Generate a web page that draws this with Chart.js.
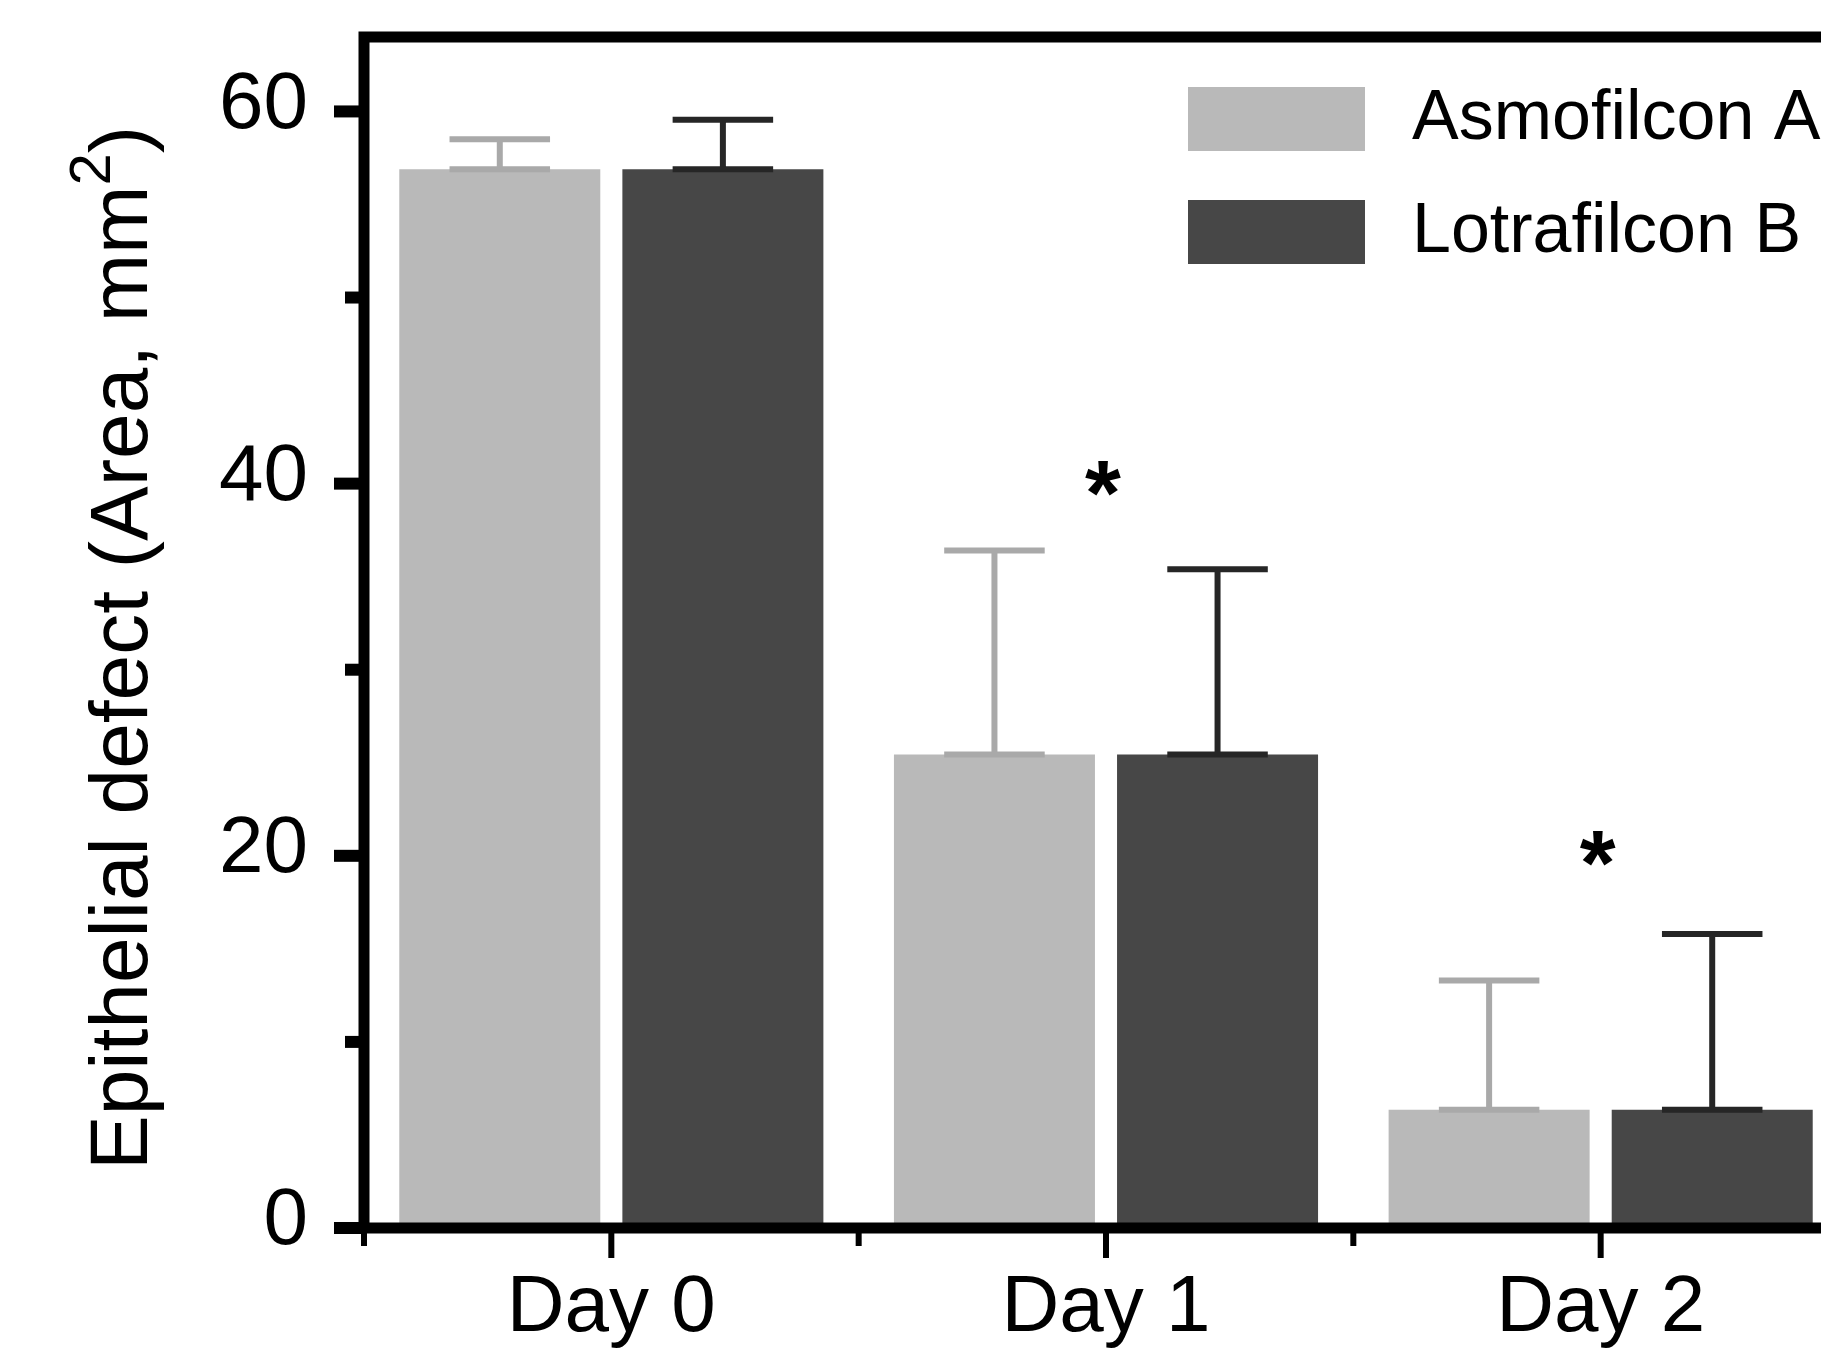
<!DOCTYPE html>
<html>
<head>
<meta charset="utf-8">
<title>Epithelial defect</title>
<script src="https://cdn.jsdelivr.net/npm/chart.js@4.4.1/dist/chart.umd.min.js"></script>
<style>
  html, body { margin: 0; padding: 0; background: #fff; overflow: hidden; }
  #wrap { width: 1821px; height: 1348px; overflow: hidden; }
</style>
</head>
<body>
<div id="wrap"><canvas id="defectChart" width="1880" height="1348"></canvas></div>
<script>
const days = ['Day 0', 'Day 1', 'Day 2'];
const seriesNames = ['Asmofilcon A', 'Lotrafilcon B'];
const asmofilconMean = [56.9, 25.45, 6.35];
const asmofilconSd = [1.6, 10.95, 6.95];
const lotrafilconMean = [56.9, 25.45, 6.35];
const lotrafilconSd = [2.65, 9.95, 9.45];
// height (in axis units) of the significance asterisk per day, null = none
const starAt = [null, 40.3, 20.4];
const yTicks = [0, 10, 20, 30, 40, 50, 60];
const yLabelled = [0, 20, 40, 60];
const yMax = 64;

const FONT = '"Liberation Sans", Arial, Helvetica, sans-serif';

// error bars: stem + cap at the top and at the mean
const errorBars = {
  id: 'errorBars',
  afterDatasetsDraw(chart) {
    const ctx = chart.ctx;
    const y = chart.scales.y;
    chart.data.datasets.forEach((ds, i) => {
      chart.getDatasetMeta(i).data.forEach((bar, j) => {
        const top = y.getPixelForValue(ds.data[j] + ds.sd[j]);
        const base = y.getPixelForValue(ds.data[j]);
        const half = bar.width / 4;
        ctx.save();
        ctx.strokeStyle = ds.errorColor;
        ctx.lineWidth = 6;
        ctx.beginPath();
        ctx.moveTo(bar.x, base);
        ctx.lineTo(bar.x, top);
        ctx.moveTo(bar.x - half, top);
        ctx.lineTo(bar.x + half, top);
        ctx.moveTo(bar.x - half, base);
        ctx.lineTo(bar.x + half, base);
        ctx.stroke();
        ctx.restore();
      });
    });
  }
};

// box round the plot and the axis tick marks
const frame = {
  id: 'frame',
  afterDatasetsDraw(chart) {
    const { ctx, chartArea: a, scales: { x, y } } = chart;
    ctx.save();
    ctx.strokeStyle = '#000';
    ctx.lineWidth = 11;
    ctx.lineJoin = 'miter';
    ctx.strokeRect(a.left, a.top, a.right - a.left, a.bottom - a.top);

    ctx.lineWidth = 12;
    yTicks.forEach(v => {
      const py = y.getPixelForValue(v);
      const len = yLabelled.includes(v) ? 24 : 13;
      ctx.beginPath();
      ctx.moveTo(a.left, py);
      ctx.lineTo(a.left - 6 - len, py);
      ctx.stroke();
    });

    ctx.lineWidth = 6;
    const step = (a.right - a.left) / days.length;
    days.forEach((d, i) => {
      const px = x.getPixelForValue(i);
      ctx.beginPath();
      ctx.moveTo(px, a.bottom);
      ctx.lineTo(px, a.bottom + 6 + 24);
      ctx.moveTo(px - step / 2, a.bottom);
      ctx.lineTo(px - step / 2, a.bottom + 6 + 12);
      ctx.stroke();
    });
    ctx.restore();
  }
};

// asterisks over the significant days
const stars = {
  id: 'stars',
  afterDatasetsDraw(chart) {
    const { ctx, scales: { x, y } } = chart;
    ctx.save();
    ctx.font = 'bold 100px ' + FONT;
    const m = ctx.measureText('*');
    const h = m.actualBoundingBoxAscent + m.actualBoundingBoxDescent;
    const size = 100 * 35 / h;
    ctx.font = 'bold ' + size + 'px ' + FONT;
    const m2 = ctx.measureText('*');
    ctx.fillStyle = '#000';
    ctx.textAlign = 'center';
    ctx.textBaseline = 'alphabetic';
    starAt.forEach((v, i) => {
      if (v === null) return;
      const cy = y.getPixelForValue(v);
      const base = cy + (m2.actualBoundingBoxAscent - m2.actualBoundingBoxDescent) / 2;
      ctx.fillText('*', x.getPixelForValue(i) - 3, base);
    });
    ctx.restore();
  }
};

const legendBoxes = {
  id: 'legendBoxes',
  afterDatasetsDraw(chart) {
    const ctx = chart.ctx;
    ctx.save();
    ctx.font = '70px ' + FONT;
    ctx.textBaseline = 'middle';
    ctx.textAlign = 'left';
    chart.data.datasets.forEach((ds, i) => {
      const top = 87 + i * 113;
      ctx.fillStyle = ds.backgroundColor;
      ctx.fillRect(1188, top, 177, 64);
      ctx.fillStyle = '#000';
      ctx.fillText(ds.label, 1412, top + 32 + 1);
    });
    ctx.restore();
  }
};

// y title with a raised "2"
const yTitle = {
  id: 'yTitle',
  afterDraw(chart) {
    const ctx = chart.ctx;
    const parts = [
      { t: 'Epithelial defect (Area, mm', size: 82, rise: 0 },
      { t: '2', size: 58, rise: 37 },
      { t: ')', size: 82, rise: 0 }
    ];
    ctx.save();
    ctx.fillStyle = '#000';
    ctx.textBaseline = 'alphabetic';
    ctx.textAlign = 'left';
    let total = 0;
    parts.forEach(p => {
      ctx.font = p.size + 'px ' + FONT;
      p.w = ctx.measureText(p.t).width;
      total += p.w;
    });
    ctx.translate(147, 648);
    ctx.rotate(-Math.PI / 2);
    let cx = -total / 2;
    parts.forEach(p => {
      ctx.font = p.size + 'px ' + FONT;
      ctx.fillText(p.t, cx, -p.rise);
      cx += p.w;
    });
    ctx.restore();
  }
};

const data = {
  labels: days,
  datasets: [{
    label: seriesNames[0],
    data: asmofilconMean,
    sd: asmofilconSd,
    backgroundColor: '#b9b9b9',
    errorColor: '#a9a9a9',
    categoryPercentage: 0.902,
    barPercentage: 0.901
  }, {
    label: seriesNames[1],
    data: lotrafilconMean,
    sd: lotrafilconSd,
    backgroundColor: '#474747',
    errorColor: '#262626',
    categoryPercentage: 0.902,
    barPercentage: 0.901
  }]
};

const config = {
  type: 'bar',
  data: data,
  options: {
    responsive: false,
    animation: false,
    layout: { padding: { top: 37, right: 32, bottom: 0, left: 0 } },
    plugins: {
      legend: { display: false },
      tooltip: { enabled: false }
    },
    scales: {
      x: {
        offset: true,
        afterFit: s => {
          s.height = 120;
          s.paddingLeft = 0;
          s.paddingRight = 0;
        },
        grid: { display: false, drawTicks: false },
        border: { display: false },
        ticks: {
          padding: 33,
          color: '#000',
          maxRotation: 0,
          autoSkip: false,
          font: { family: FONT, size: 80 }
        }
      },
      y: {
        min: 0,
        max: yMax,
        afterBuildTicks: s => { s.ticks = yTicks.map(v => ({ value: v })); },
        afterFit: s => {
          s.width = 364;
          s.paddingTop = 0;
          s.paddingBottom = 0;
        },
        grid: { display: false, drawTicks: false },
        border: { display: false },
        ticks: {
          padding: 56,
          labelOffset: -6,
          color: '#000',
          font: { family: FONT, size: 80 },
          callback: v => yLabelled.includes(v) ? String(v) : ''
        }
      }
    }
  },
  plugins: [errorBars, frame, stars, legendBoxes, yTitle]
};

const defectChart = new Chart(document.getElementById('defectChart'), config);
</script>
</body>
</html>
